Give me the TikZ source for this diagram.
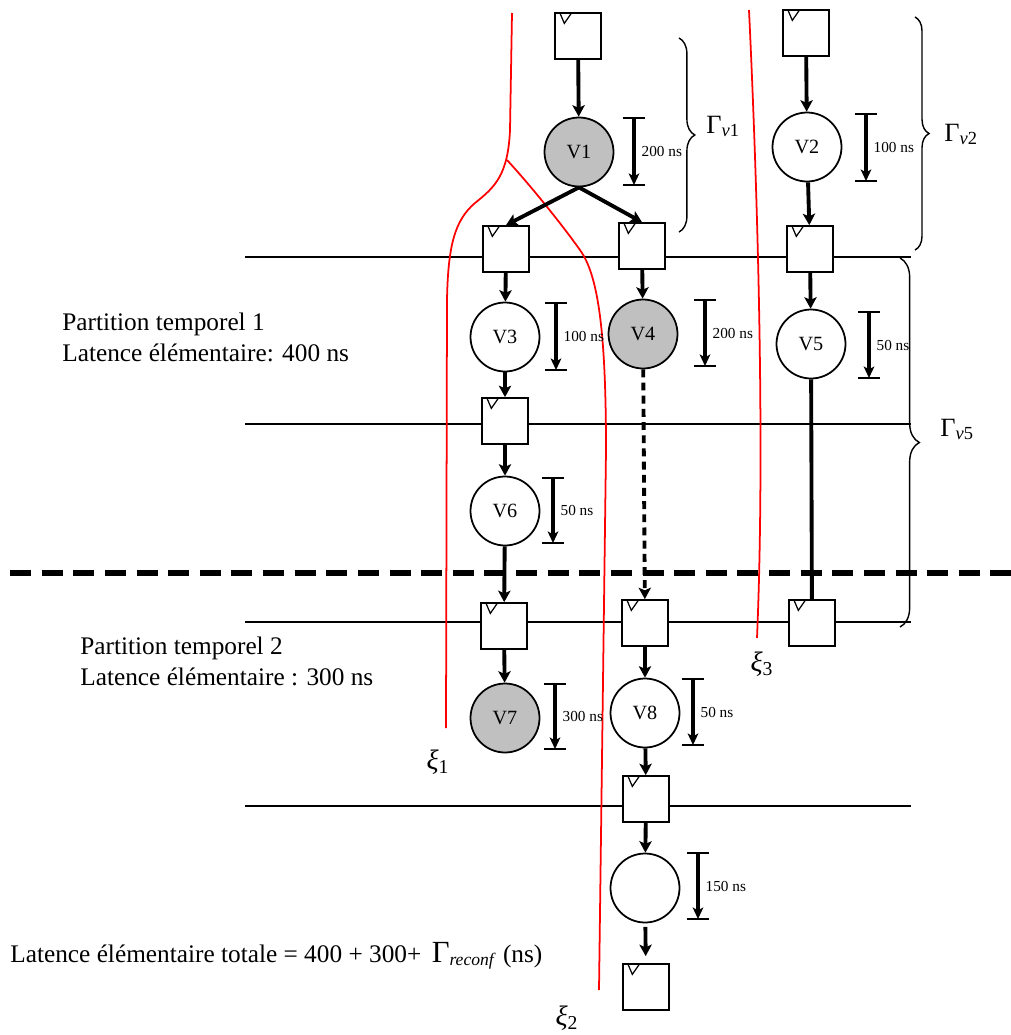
\documentclass[tikz,border=0pt]{standalone}
\usepackage{fontspec}
\setmainfont{Liberation Serif}
\usepackage{tikz}
\usetikzlibrary{arrows.meta, positioning, decorations.pathreplacing}
\definecolor{OpGray}{RGB}{192,192,192}
\definecolor{CutRed}{RGB}{255,0,0}

\begin{document}
\begin{tikzpicture}[x=0.02cm, y=-0.02cm,
          regbox/.style={rectangle, draw, line width=1pt, fill=white,
                         minimum size=0.92cm, inner sep=0pt,
                         path picture={\draw[line width=0.7pt]
                           ([xshift=2.8pt]path picture bounding box.north west)
                           -- ([xshift=5.3pt, yshift=-5.9pt]path picture bounding box.north west)
                           -- ([xshift=9.4pt]path picture bounding box.north west);}},
          opnode/.style={circle, draw, line width=1pt, fill=white,
                         minimum size=1.38cm, inner sep=0pt,
                         font=\fontsize{11.5}{13}\selectfont},
          opgray/.style={opnode, fill=OpGray},
          flow/.style={line width=2.2pt,
                       -{Stealth[length=6.5pt, width=7pt, inset=1.5pt]}},
          delay/.style={line width=2pt,
                        -{Stealth[length=6.5pt, width=6pt, inset=1.5pt]}},
          stage/.style={line width=0.8pt},
          cut/.style={CutRed, line width=1pt},
          lbl/.style={font=\fontsize{14.4}{17.6}\selectfont, align=left, inner sep=0pt}
        ]
        \useasboundingbox (0,0) rectangle (1011,1035);

        % Register stages
        \draw[stage] (245,257) -- (911,257);
        \draw[stage] (245,424) -- (911,424);
        \draw[stage] (245,622) -- (911,622);
        \draw[stage] (245,806) -- (911,806);

        % Reconfiguration boundary
        \draw[line width=3pt, dash pattern=on 12pt off 6pt] (10,573) -- (1011,573);

        % Cuts
        \draw[cut] (512,13) -- (510,130)
              .. controls (508,175) and (495,187) .. (475,203)
              .. controls (455,220) and (448,245) .. (447,300) -- (446,728);
        \draw[cut] (507,160) .. controls (530,185) and (560,222) .. (580,250)
              .. controls (598,275) and (606,330) .. (606,450) -- (599,990);
        \draw[cut] (749,10) .. controls (758,200) and (765,450) .. (757,638);

        % Registers
        \node[regbox] (rin1) at (578,36) {};
        \node[regbox] (rin2) at (806,33) {};
        \node[regbox] (r11)  at (506,249) {};
        \node[regbox] (r12)  at (642,246) {};
        \node[regbox] (r13)  at (810,249) {};
        \node[regbox] (r21)  at (505,421) {};
        \node[regbox] (r31)  at (504,626) {};
        \node[regbox] (r32)  at (645,623) {};
        \node[regbox] (r33)  at (812,623) {};
        \node[regbox] (r41)  at (646,799) {};
        \node[regbox] (rout) at (646,987) {};

        % Operators
        \node[opgray] (v1) at (579,152) {V1};
        \node[opnode] (v2) at (807,147) {V2};
        \node[opnode] (v3) at (505,337) {V3};
        \node[opgray] (v4) at (643,334) {V4};
        \node[opnode] (v5) at (811,344) {V5};
        \node[opnode] (v6) at (505,511) {V6};
        \node[opgray] (v7) at (505,718) {V7};
        \node[opnode] (v8) at (645,713) {V8};
        \node[opnode] (v9) at (645,888) {};

        % Data flow
        \draw[flow] (rin1) -- (v1);
        \draw[flow] (v1.south) -- (r11.north);
        \draw[flow] (v1.south) -- (r12.north);
        \draw[flow] (rin2) -- (v2);
        \draw[flow] (v2) -- (r13);
        \draw[flow] (r11) -- (v3);
        \draw[flow] (r12) -- (v4);
        \draw[flow] (r13) -- (v5);
        \draw[flow] (v3) -- (r21);
        \draw[flow] (r21) -- (v6);
        \draw[flow] (v6) -- (r31);
        \draw[flow, dash pattern=on 4.5pt off 3pt] (v4) -- (r32);
        \draw[line width=2.2pt] (v5) -- (r33);
        \draw[flow] (r31) -- (v7);
        \draw[flow] (r32) -- (v8);
        \draw[flow] (v8) -- (r41);
        \draw[flow] (r41) -- (v9);
        \draw[flow, shorten <=2pt, shorten >=4pt] (v9) -- (rout);

        % Operator latencies
        \foreach \dx/\dt/\db/\dlab [count=\i] in {634/118/185/200, 866/114/181/100,
              556/303/370/100, 705/300/366/200, 869/312/378/50, 553/478/543/50,
              555/684/749/300, 693/679/745/50, 698/853/919/150}{
          \draw[line width=0.9pt] (\dx-11,\dt) -- (\dx+11,\dt)
                (\dx-11,\db) -- (\dx+11,\db);
          \draw[delay] (\dx,\dt) -- (\dx,\db)
                node[midway, right, font=\fontsize{8.7}{10}\selectfont] (d\i) {\dlab~ns};
        }

        % Path latencies
        \draw[decorate, decoration={brace, amplitude=9pt}, line width=0.8pt]
              (679,38) -- (679,232);
        \draw[decorate, decoration={brace, amplitude=8pt}, line width=0.8pt]
              (915,17) -- (915,250);
        \draw[decorate, decoration={brace, amplitude=11pt}, line width=0.8pt]
              (900,258) -- (900,627);
        \node[anchor=base west, inner sep=0pt, font=\fontsize{15}{18}\selectfont]
              (gv1) at (706,133) {Γ\textsubscript{\textit{v}1}};
        \node[anchor=base west, inner sep=0pt, font=\fontsize{15}{18}\selectfont]
              (gv2) at (944,141) {Γ\textsubscript{\textit{v}2}};
        \node[anchor=base west, inner sep=0pt, font=\fontsize{15}{18}\selectfont]
              (gv5) at (940,436) {Γ\textsubscript{\textit{v}5}};

        % Cut names
        \node[font=\fontsize{16}{18}\selectfont] (xi1) at (438,762) {\textit{ξ}\textsubscript{1}};
        \node[font=\fontsize{16}{18}\selectfont] (xi2) at (567,1018) {\textit{ξ}\textsubscript{2}};
        \node[font=\fontsize{16}{18}\selectfont] (xi3) at (762,664) {\textit{ξ}\textsubscript{3}};

        % Partition texts
        \node[lbl, anchor=north west] (part1) at (62,313)
              {Partition temporel 1\\Latence élémentaire: 400 ns};
        \node[lbl, anchor=north west] (part2) at (80,637)
              {Partition temporel 2\\Latence élémentaire : 300 ns};
        \node[lbl, anchor=base west] (total) at (10,962)
              {Latence élémentaire totale = 400 + 300+ \,{\fontsize{17.5}{20}\selectfont Γ}\textsubscript{\textit{reconf}} (ns)};
      \end{tikzpicture}
\end{document}
